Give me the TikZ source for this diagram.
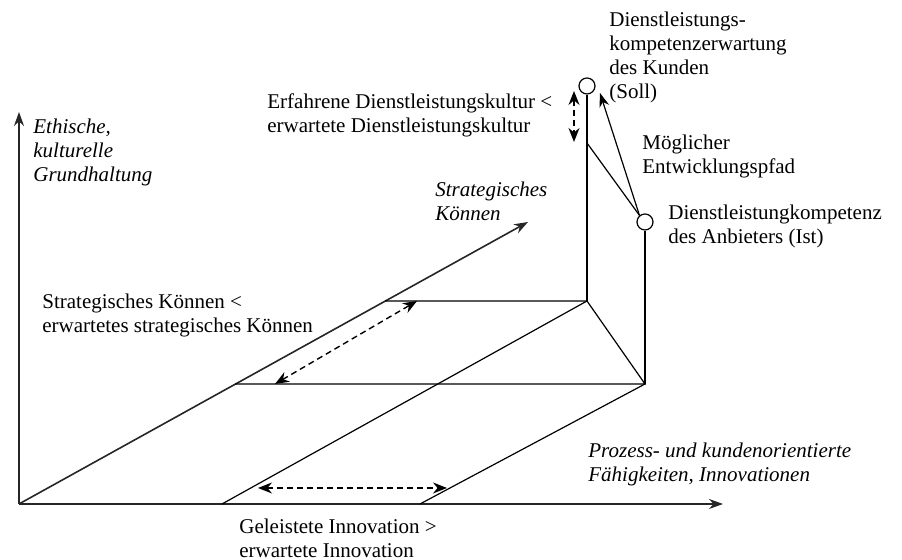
\documentclass[tikz,border=0pt]{standalone}
\usepackage{fontspec}
\setmainfont{Liberation Serif}
\usetikzlibrary{arrows.meta}
\begin{document}
\begin{tikzpicture}[x=0.5pt,y=0.5pt,
    font=\fontsize{10.5}{12}\selectfont,
    lbl/.style={inner sep=0pt,anchor=west,align=left},
    italic/.style={lbl,font=\fontsize{10.5}{12}\selectfont\itshape},
    axis/.style={-{Stealth[length=7pt,width=5pt]},line width=0.8pt,black!85},
    edge/.style={line width=0.6pt},
    gap/.style={dash pattern=on 3pt off 2pt,line width=0.7pt,
      {Stealth[length=7pt,width=5.5pt]}-{Stealth[length=7pt,width=5.5pt]}},
    level/.style={circle,draw,fill=white,line width=0.6pt,minimum size=8pt,inner sep=0pt}]
  \useasboundingbox (0,0) rectangle (902,560);
  \coordinate (o) at (19,56);
  \coordinate (xend) at (723,56);
  \coordinate (yend) at (19,448);
  \coordinate (zend) at (528,338);
  \coordinate (a) at (587,259);
  \coordinate (b) at (645,176);
  \coordinate (su) at (385,259);
  \coordinate (sl) at (235,176);
  \coordinate (d1) at (222,56);
  \coordinate (d2) at (420,56);
  \coordinate (p) at (587,417);
  \coordinate (pathend) at (600,467);
  \node[level] (soll) at (587,474) {};
  \node[level] (ist) at (645,338) {};
  % axes
  \draw[axis] (o) -- (xend);
  \draw[axis] (o) -- (yend);
  \draw[axis] (o) -- (zend);
  % competence body
  \begin{scope}[edge]
    \draw (su) -- (a) -- (b) -- (sl);
    \draw (d1) -- (a);
    \draw (d2) -- (b);
    \draw (a) -- (soll);
    \draw (b) -- (ist);
    \draw (p) -- (ist.130);
    \draw[-{Stealth[length=7pt,width=5pt]}] (ist.130) -- (pathend);
  \end{scope}
  % gaps
  \coordinate (g1a) at (574,469);
  \coordinate (g1b) at (574,418);
  \coordinate (g2a) at (275,176);
  \coordinate (g2b) at (417,259);
  \coordinate (g3a) at (258,72);
  \coordinate (g3b) at (447,72);
  \draw[gap] (g1a) -- (g1b);
  \draw[gap] (g2a) -- (g2b);
  \draw[gap] (g3a) -- (g3b);
  % labels
  \node[italic] (ethik) at (33,408) {Ethische,\\kulturelle\\Grundhaltung};
  \node[italic] (strat) at (435,359) {Strategisches\\Können};
  \node[italic] (prozess) at (588,96) {Prozess- und kundenorientierte\\Fähigkeiten, Innovationen};
  \node[lbl] (kultur) at (267,445) {Erfahrene Dienstleistungskultur <\\erwartete Dienstleistungskultur};
  \node[lbl] (koennen) at (42,245) {Strategisches Können <\\erwartetes strategisches Können};
  \node[lbl] (innov) at (239,22) {Geleistete Innovation >\\erwartete Innovation};
  \node[lbl] (solltext) at (609,503) {Dienstleistungs-\\kompetenzerwartung\\des Kunden\\(Soll)};
  \node[lbl] (pfad) at (642,404) {Möglicher\\Entwicklungspfad};
  \node[lbl] (isttext) at (668,334) {Dienstleistungkompetenz\\des Anbieters (Ist)};
\end{tikzpicture}
\end{document}
